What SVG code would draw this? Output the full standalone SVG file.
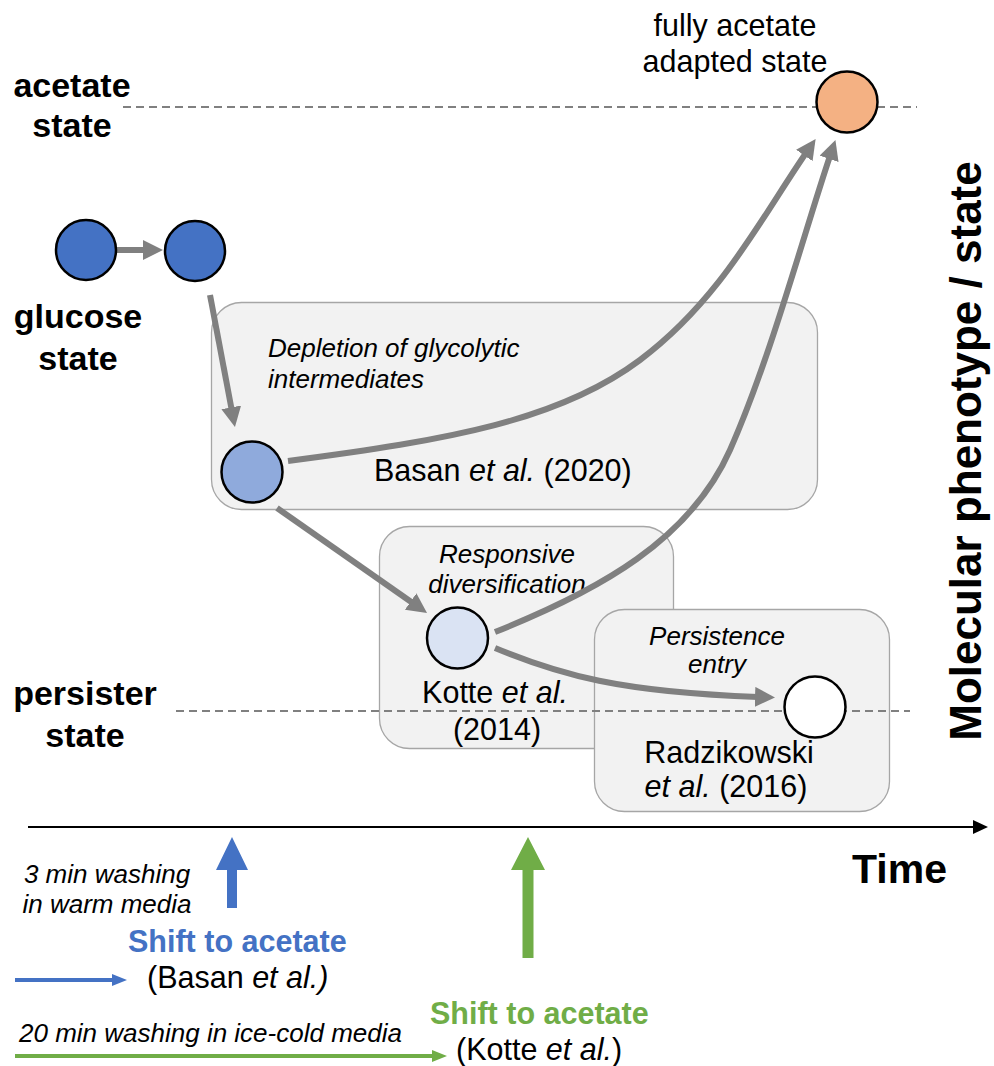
<svg xmlns="http://www.w3.org/2000/svg" width="994" height="1066" viewBox="0 0 994 1066">
<style>
text{font-family:"Liberation Sans",Arial,sans-serif;fill:#000}
.lbl{font-size:34px;font-weight:bold;text-anchor:middle}
.ref{font-size:30.5px}
.it{font-style:italic}
.note{font-size:26px;font-style:italic}
.box{fill:#f2f2f2;stroke:#a6a6a6;stroke-width:1.3}
.dash{stroke:#808080;stroke-width:2.2;stroke-dasharray:8 5;fill:none}
.con{stroke:#808080;stroke-width:6;fill:none;marker-end:url(#ah)}
.node{stroke:#000;stroke-width:2.5}
</style>
<defs>
<marker id="ah" markerUnits="userSpaceOnUse" markerWidth="22" markerHeight="22" refX="3" refY="10" orient="auto">
<path d="M0,0 L20,10 L0,20 z" fill="#808080"/>
</marker>
</defs>

<g id="axis-labels">
<text class="lbl" x="72" y="97">acetate</text>
<text class="lbl" x="72" y="137">state</text>
<text class="lbl" x="78" y="328">glucose</text>
<text class="lbl" x="78" y="370">state</text>
<text class="lbl" x="85" y="705">persister</text>
<text class="lbl" x="85" y="747">state</text>
<text x="981" y="451" transform="rotate(-90 981 451)" style="font-size:44px;font-weight:bold;text-anchor:middle">Molecular phenotype / state</text>
</g>

<g id="box-basan">
<rect class="box" x="211.5" y="302.5" width="606" height="207" rx="30"/>
<text class="note" x="268" y="357">Depletion of glycolytic</text>
<text class="note" x="268" y="388">intermediates</text>
<text class="ref" x="374" y="481">Basan <tspan class="it">et al.</tspan> (2020)</text>
</g>
<g id="box-kotte">
<rect class="box" x="379.5" y="526.5" width="294" height="222" rx="30"/>
<text class="note" x="507" y="563" text-anchor="middle">Responsive</text>
<text class="note" x="507" y="593" text-anchor="middle">diversification</text>
<text class="ref" x="495" y="703" text-anchor="middle">Kotte <tspan class="it">et al.</tspan></text>
<text class="ref" x="497" y="740" text-anchor="middle">(2014)</text>
</g>
<g id="box-radzikowski">
<rect class="box" x="594.5" y="609.5" width="295" height="202" rx="30"/>
<text class="note" x="717" y="645" text-anchor="middle">Persistence</text>
<text class="note" x="717" y="673" text-anchor="middle">entry</text>
<text class="ref" x="729" y="763" text-anchor="middle">Radzikowski</text>
<text class="ref" x="726" y="797" text-anchor="middle"><tspan class="it">et al.</tspan> (2016)</text>
</g>

<g id="state-lines">
<line class="dash" x1="123" y1="107" x2="917" y2="107"/>
<line class="dash" x1="176" y1="711" x2="910" y2="711"/>
</g>

<g id="connectors">
<line class="con" x1="117" y1="250" x2="146" y2="250"/>
<line class="con" x1="210" y1="295" x2="231.8" y2="410.3"/>
<line class="con" x1="277" y1="508" x2="413.1" y2="603.2"/>
<path class="con" d="M288,461 C450,440 560,420 640,360 S760,220 806,153"/>
<path class="con" d="M495,632 C600,590 690,540 730,450 S805,230 830,156"/>
<path class="con" d="M495,648 C560,675 620,692 758,697"/>
</g>

<g id="node-glucose-1"><circle class="node" cx="86" cy="250" r="30" fill="#4472c4"/></g>
<g id="node-glucose-2"><circle class="node" cx="195" cy="251" r="30" fill="#4472c4"/></g>
<g id="node-basan"><circle class="node" cx="252" cy="472" r="30.5" fill="#8faadc"/></g>
<g id="node-kotte"><circle class="node" cx="457.5" cy="638" r="30.5" fill="#dae3f3"/></g>
<g id="node-persister"><circle class="node" cx="815" cy="707" r="30.5" fill="#ffffff"/></g>
<g id="node-acetate">
<circle class="node" cx="847" cy="102" r="30.5" fill="#f4b183"/>
<text class="ref" x="735" y="36" text-anchor="middle">fully acetate</text>
<text class="ref" x="735" y="72" text-anchor="middle">adapted state</text>
</g>

<g id="time-axis">
<line x1="28" y1="827" x2="976" y2="827" stroke="#000" stroke-width="2.2"/>
<polygon points="973,820 988,827 973,834" fill="#000"/>
<text x="852" y="883" style="font-size:41px;font-weight:bold">Time</text>
</g>

<g id="shift-basan">
<polygon points="227,908 237,908 237,870 248,870 232,837 216,870 227,870" fill="#4472c4"/>
<text class="note" x="107" y="883" text-anchor="middle">3 min washing</text>
<text class="note" x="107" y="913" text-anchor="middle">in warm media</text>
<text x="128" y="952" style="font-size:30.5px;font-weight:bold;fill:#4472c4">Shift to acetate</text>
<line x1="15" y1="980" x2="113" y2="980" stroke="#4472c4" stroke-width="4"/>
<polygon points="112,974 127,980 112,986" fill="#4472c4"/>
<text class="ref" x="147" y="988">(Basan <tspan class="it">et al.)</tspan></text>
</g>

<g id="shift-kotte">
<polygon points="522.5,958 533.5,958 533.5,870 545,870 528,837 511,870 522.5,870" fill="#70ad47"/>
<text x="430" y="1024" style="font-size:30.5px;font-weight:bold;fill:#70ad47">Shift to acetate</text>
<text class="note" x="19" y="1042">20 min washing in ice-cold media</text>
<line x1="15" y1="1056" x2="433" y2="1056" stroke="#70ad47" stroke-width="4"/>
<polygon points="432,1050 447,1056 432,1062" fill="#70ad47"/>
<text class="ref" x="456" y="1060">(Kotte <tspan class="it">et al.</tspan>)</text>
</g>
</svg>
